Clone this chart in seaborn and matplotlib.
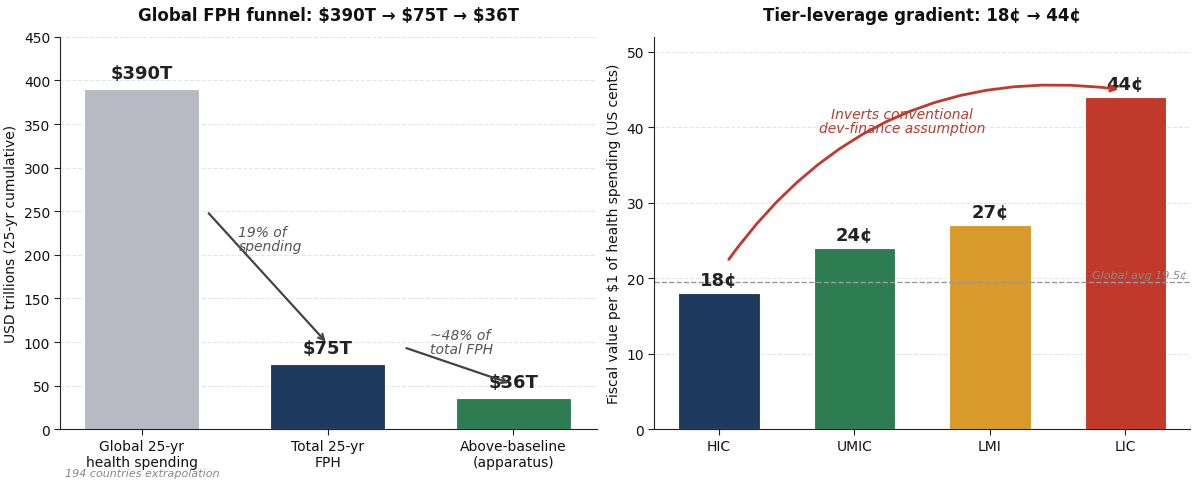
import matplotlib
matplotlib.use("Agg")
import matplotlib.pyplot as plt
import seaborn as sns
import pandas as pd

# Data
funnel_labels = ["Global 25-yr\nhealth spending", "Total 25-yr\nFPH", "Above-baseline\n(apparatus)"]
funnel_values = [390, 75, 36]
funnel_text = ["$390T", "$75T", "$36T"]
funnel_colors = ["#b8bac3", "#1f3a5f", "#2e7d52"]

tiers = ["HIC", "UMIC", "LMI", "LIC"]
tier_values = [18, 24, 27, 44]
tier_text = ["18¢", "24¢", "27¢", "44¢"]
tier_colors = ["#1f3a5f", "#2e7d52", "#d99a2b", "#c0392b"]
global_avg = 19.5

sns.set_style("white")
plt.rcParams['font.family'] = ['DejaVu Sans']
plt.rcParams.update({"text.color": "#111111", "axes.labelcolor": "#111111",
                     "xtick.color": "#111111", "ytick.color": "#111111"})

fig = plt.figure(figsize=(12, 4.85), dpi=100)
ax1 = fig.add_axes([0.05, 0.113, 0.4475, 0.809])
ax2 = fig.add_axes([0.545, 0.113, 0.447, 0.809])

df1 = pd.DataFrame({"cat": funnel_labels, "val": funnel_values})
sns.barplot(data=df1, x="cat", y="val", hue="cat", palette=funnel_colors,
            legend=False, width=0.62, ax=ax1, edgecolor="white", linewidth=0.8, saturation=1)
ax1.set_xlim(-0.44, 2.45)
ax1.set_ylim(0, 450)
ax1.set_yticks(range(0, 451, 50))
ax1.set_xlabel("")
ax1.set_ylabel("USD trillions (25-yr cumulative)", fontsize=10)
ax1.set_title("Global FPH funnel: $390T → $75T → $36T", fontsize=12, fontweight="bold", pad=12)
for i, (v, t) in enumerate(zip(funnel_values, funnel_text)):
    ax1.text(i, v + 8, t, ha="center", va="bottom", fontsize=13, fontweight="bold", color="#222222")
ax1.annotate("", xy=(1.0, 98), xytext=(0.35, 250),
             arrowprops=dict(arrowstyle="->", color="#444444", lw=1.6))
ax1.text(0.52, 218, "19% of\nspending", fontsize=10, style="italic", color="#555555",
         ha="left", va="center", linespacing=1.0)
ax1.annotate("", xy=(1.99, 52), xytext=(1.41, 94),
             arrowprops=dict(arrowstyle="->", color="#444444", lw=1.6))
ax1.text(1.55, 100, "~48% of\ntotal FPH", fontsize=10, style="italic", color="#555555",
         ha="left", va="center", linespacing=1.0)
ax1.text(0, -0.112, "194 countries extrapolation", transform=ax1.get_xaxis_transform(),
         ha="center", va="center", fontsize=8, style="italic", color="#888888")

df2 = pd.DataFrame({"tier": tiers, "val": tier_values})
sns.barplot(data=df2, x="tier", y="val", hue="tier", palette=tier_colors,
            legend=False, width=0.6, ax=ax2, edgecolor="white", linewidth=0.8, saturation=1)
ax2.set_xlim(-0.48, 3.48)
ax2.set_ylim(0, 52)
ax2.set_yticks(range(0, 51, 10))
ax2.set_xlabel("")
ax2.set_ylabel("Fiscal value per $1 of health spending (US cents)", fontsize=10)
ax2.set_title("Tier-leverage gradient: 18¢ → 44¢", fontsize=12, fontweight="bold", pad=12)
for i, (v, t) in enumerate(zip(tier_values, tier_text)):
    ax2.text(i, v + 0.6, t, ha="center", va="bottom", fontsize=13, fontweight="bold", color="#222222")
ax2.axhline(global_avg, color="#999999", ls="--", lw=1)
ax2.text(3.46, global_avg + 0.3, "Global avg 19.5¢", ha="right", va="bottom",
         fontsize=8, style="italic", color="#888888")
ax2.annotate("", xy=(2.97, 45), xytext=(0.06, 22.2),
             arrowprops=dict(arrowstyle="->", color="#c0392b", lw=2,
                             connectionstyle="arc3,rad=-0.3"))
ax2.text(1.35, 40.8, "Inverts conventional\ndev-finance assumption", ha="center", va="center",
         fontsize=10, style="italic", color="#c0392b", linespacing=1.0)

for ax in (ax1, ax2):
    ax.grid(axis="y", ls="--", color="#e5e5e5", lw=0.8)
    ax.set_axisbelow(True)
    for s in ("top", "right"):
        ax.spines[s].set_visible(False)
    for s in ("left", "bottom"):
        ax.spines[s].set_color("#222222")
    ax.tick_params(axis="both", labelsize=10, length=4, pad=3, left=True, bottom=True, color="#222222")

fig.savefig("out.png", dpi=100)
